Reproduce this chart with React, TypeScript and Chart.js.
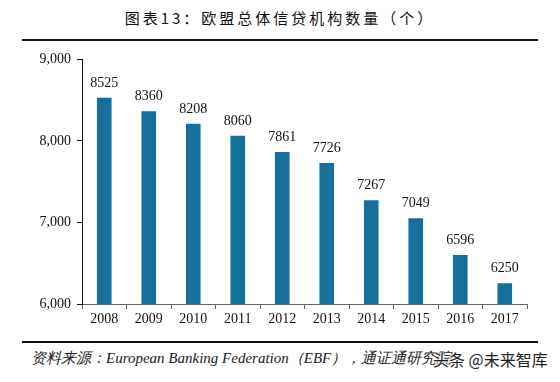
import React, { useEffect, useRef } from "react";
import { Chart, registerables } from "chart.js";

Chart.register(...registerables);

const years = ["2008", "2009", "2010", "2011", "2012", "2013", "2014", "2015", "2016", "2017"];
const institutions = [8525, 8360, 8208, 8060, 7861, 7726, 7267, 7049, 6596, 6250];
const yTicks = [6000, 7000, 8000, 9000];

const serif = "'Liberation Serif', 'Times New Roman', serif";

const labelPlugin = {
  id: "barLabels",
  afterDatasetsDraw(chart: any) {
    const ctx = chart.ctx;
    const meta = chart.getDatasetMeta(0);
    ctx.save();
    ctx.font = `14px ${serif}`;
    ctx.fillStyle = "#111";
    ctx.textAlign = "center";
    ctx.textBaseline = "bottom";
    meta.data.forEach((bar: any, i: number) => {
      ctx.fillText(String(institutions[i]), bar.x, bar.y - 8);
    });
    ctx.restore();
  },
};

function BarChart() {
  const ref = useRef<HTMLCanvasElement>(null);
  useEffect(() => {
    if (!ref.current) return;
    const chart = new Chart(ref.current, {
      type: "bar",
      data: {
        labels: years,
        datasets: [
          {
            data: institutions,
            backgroundColor: "#16709c",
            barThickness: 14,
          },
        ],
      },
      options: {
        animation: false,
        responsive: false,
        maintainAspectRatio: false,
        layout: { padding: { left: 0, right: 33, top: 14, bottom: 0 } },
        plugins: { legend: { display: false }, tooltip: { enabled: false } },
        scales: {
          x: {
            afterFit: (s: any) => {
              s.height = 31;
            },
            grid: {
              display: true,
              drawOnChartArea: false,
              drawTicks: true,
              tickLength: 5,
              color: "#666",
              offset: true,
            },
            border: { display: true, color: "#666", width: 1 },
            ticks: {
              color: "#111",
              font: { family: serif, size: 14 },
              padding: 2,
              maxRotation: 0,
            },
          },
          y: {
            min: 6000,
            max: 9000,
            afterFit: (s: any) => {
              s.width = 82;
            },
            afterBuildTicks: (s: any) => {
              s.ticks = yTicks.map((v) => ({ value: v }));
            },
            grid: {
              display: true,
              drawOnChartArea: false,
              drawTicks: true,
              tickLength: 5,
              color: "#111",
            },
            border: { display: true, color: "#111", width: 1 },
            ticks: {
              color: "#111",
              font: { family: serif, size: 14 },
              padding: 6,
              callback: (v: any) => Number(v).toLocaleString("en-US"),
            },
          },
        },
      },
      plugins: [labelPlugin],
    });
    return () => chart.destroy();
  }, []);
  return <canvas ref={ref} width={560} height={290} style={{ position: "absolute", left: 0, top: 45 }} />;
}

export default function App() {
  return (
    <div
      style={{
        position: "fixed",
        left: 0,
        top: 0,
        width: 560,
        height: 382,
        background: "#fff",
        overflow: "hidden",
      }}
    >
      <div
        style={{
          position: "absolute",
          left: 0,
          top: 7,
          width: 560,
          textAlign: "center",
          fontFamily: "'Noto Sans CJK SC', sans-serif",
          fontSize: 15,
          letterSpacing: 3,
          color: "#111",
          lineHeight: "22px",
        }}
      >
        图表13：欧盟总体信贷机构数量（个）
      </div>
      <div style={{ position: "absolute", left: 22, top: 39, width: 516, height: 2, background: "#111" }} />
      <BarChart />
      <div style={{ position: "absolute", left: 22, top: 341, width: 516, height: 2, background: "#111" }} />
      <div
        style={{
          position: "absolute",
          left: 31,
          top: 347,
          fontFamily: serif,
          fontStyle: "italic",
          fontSize: 15,
          color: "#222",
          whiteSpace: "nowrap",
          lineHeight: "22px",
        }}
      >
        资料来源：European Banking Federation（EBF），通证通研究院
      </div>
      <div
        style={{
          position: "absolute",
          left: 433,
          top: 348,
          fontFamily: "'Noto Sans CJK SC', sans-serif",
          fontSize: 16,
          color: "#222",
          whiteSpace: "nowrap",
          lineHeight: "22px",
          textShadow: "0 0 2px #fff, 0 0 2px #fff, 0 0 3px #fff",
        }}
      >
        头条 @未来智库
      </div>
    </div>
  );
}
